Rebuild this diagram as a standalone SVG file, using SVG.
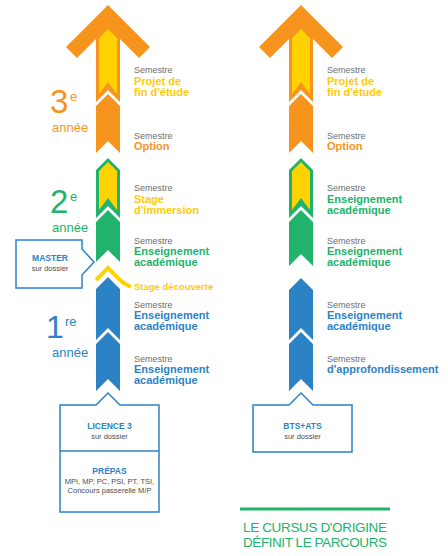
<svg xmlns="http://www.w3.org/2000/svg" width="448" height="556" viewBox="0 0 448 556">
<style>
.or{fill:#F7941E}.ye{fill:#FFD200}.gr{fill:#21B36B}.bl{fill:#2B83C6}
.t{font-family:"Liberation Sans",Arial,sans-serif}
.sem{font-size:9px;fill:#6D6E71}
.lab{font-size:11px;font-weight:bold}
.tor{fill:#F7941E}.tye{fill:#FFCB05}.tgr{fill:#21B36B}.tbl{fill:#2B83C6}
.big{font-size:33px}.sup{font-size:13px}.an{font-size:13px}
.box{fill:#fff;stroke:#2B83C6;stroke-width:1.5}
.bh{font-size:8.5px;font-weight:bold;fill:#2B83C6}
.bt{font-size:7.5px;fill:#4D4D4F}
</style>
<rect width="448" height="556" fill="#fff"/>

<g id="connectors">
  <path d="M96,280 L108,268 L120,280 Q124,284 131,287" fill="none" stroke="#FFD200" stroke-width="4"/>
</g>

<!-- LEFT COLUMN -->
<g id="L-projet">
  <polygon class="or" points="108,5 150,47 139,58 120,39 120,102 108,90 96,102 96,39 77,58 66,47"/>
  <polygon class="ye" points="108,29 117,38 117,94 108,82 99,94 99,38"/>
  <text class="t sem" x="134" y="73">Semestre</text>
  <text class="t lab tye" x="134" y="85">Projet de</text>
  <text class="t lab tye" x="134" y="96">fin d'étude</text>
</g>
<g id="L-option">
  <polygon class="or" points="108,94 120,106 120,153 108,141 96,153 96,106"/>
  <text class="t sem" x="134" y="139">Semestre</text>
  <text class="t lab tor" x="134" y="150">Option</text>
</g>
<g id="L-stage">
  <polygon class="gr" points="108,158 120,170 120,218 108,206 96,218 96,170"/>
  <polygon class="ye" points="108,162 117,171 117,210 108,198 99,210 99,171"/>
  <text class="t sem" x="134" y="191">Semestre</text>
  <text class="t lab tye" x="134" y="203">Stage</text>
  <text class="t lab tye" x="134" y="214">d'immersion</text>
</g>
<g id="L-ens2">
  <polygon class="gr" points="108,210 120,222 120,262 108,250 96,262 96,222"/>
  <text class="t sem" x="134" y="244">Semestre</text>
  <text class="t lab tgr" x="134" y="255">Enseignement</text>
  <text class="t lab tgr" x="134" y="266">académique</text>
</g>
<g id="L-decouverte">
  <text class="t tye" x="134" y="290" font-size="9.5" font-weight="bold">Stage découverte</text>
</g>
<g id="L-ens1a">
  <polygon class="bl" points="108,277 120,289 120,340 108,328 96,340 96,289"/>
  <text class="t sem" x="134" y="308">Semestre</text>
  <text class="t lab tbl" x="134" y="319">Enseignement</text>
  <text class="t lab tbl" x="134" y="330">académique</text>
</g>
<g id="L-ens1b">
  <polygon class="bl" points="108,332 120,344 120,391 108,379 96,391 96,344"/>
  <text class="t sem" x="134" y="362">Semestre</text>
  <text class="t lab tbl" x="134" y="373">Enseignement</text>
  <text class="t lab tbl" x="134" y="384">académique</text>
</g>

<g id="year3">
  <text class="t big tor" x="50" y="113">3</text>
  <text class="t sup tor" x="70" y="101">e</text>
  <text class="t an tor" x="52" y="132">année</text>
</g>
<g id="year2">
  <text class="t big tgr" x="50" y="213">2</text>
  <text class="t sup tgr" x="70" y="201">e</text>
  <text class="t an tgr" x="52" y="232">année</text>
</g>
<g id="year1">
  <text class="t tbl" x="46" y="338" font-size="32">1</text>
  <text class="t sup tbl" x="65" y="326">re</text>
  <text class="t an tbl" x="52" y="357">année</text>
</g>

<g id="master">
  <path class="box" d="M16,240 H82 V249 L94,262 L82,275 V288 H16 Z"/>
  <text class="t bh" x="50" y="261" text-anchor="middle">MASTER</text>
  <text class="t bt" x="50" y="271" text-anchor="middle">sur dossier</text>
</g>

<g id="licence">
  <path class="box" d="M60,405 H96 L108,393 L120,405 H159 V512 H60 Z"/>
  <line x1="60" y1="451" x2="159" y2="451" stroke="#2B83C6" stroke-width="1.5"/>
  <text class="t bh" x="109.5" y="429" text-anchor="middle">LICENCE 3</text>
  <text class="t bt" x="109.5" y="439" text-anchor="middle">sur dossier</text>
  <text class="t bh" x="109.5" y="474" text-anchor="middle">PRÉPAS</text>
  <text class="t bt" x="109.5" y="484" text-anchor="middle">MPI, MP, PC, PSI, PT, TSI,</text>
  <text class="t bt" x="109.5" y="493" text-anchor="middle">Concours passerelle M/P</text>
</g>

<!-- RIGHT COLUMN -->
<g id="R-projet">
  <polygon class="or" transform="translate(193,0)" points="108,5 150,47 139,58 120,39 120,102 108,90 96,102 96,39 77,58 66,47"/>
  <polygon class="ye" transform="translate(193,0)" points="108,29 117,38 117,94 108,82 99,94 99,38"/>
  <text class="t sem" x="327" y="73">Semestre</text>
  <text class="t lab tye" x="327" y="85">Projet de</text>
  <text class="t lab tye" x="327" y="96">fin d'étude</text>
</g>
<g id="R-option">
  <polygon class="or" transform="translate(193,0)" points="108,94 120,106 120,153 108,141 96,153 96,106"/>
  <text class="t sem" x="327" y="139">Semestre</text>
  <text class="t lab tor" x="327" y="150">Option</text>
</g>
<g id="R-ens2a">
  <polygon class="gr" transform="translate(193,0)" points="108,158 120,170 120,218 108,206 96,218 96,170"/>
  <polygon class="ye" transform="translate(193,0)" points="108,162 117,171 117,210 108,198 99,210 99,171"/>
  <text class="t sem" x="327" y="191">Semestre</text>
  <text class="t lab tgr" x="327" y="203">Enseignement</text>
  <text class="t lab tgr" x="327" y="214">académique</text>
</g>
<g id="R-ens2b">
  <polygon class="gr" transform="translate(193,0)" points="108,210 120,222 120,266 108,254 96,266 96,222"/>
  <text class="t sem" x="327" y="244">Semestre</text>
  <text class="t lab tgr" x="327" y="255">Enseignement</text>
  <text class="t lab tgr" x="327" y="266">académique</text>
</g>
<g id="R-ens1">
  <polygon class="bl" transform="translate(193,0)" points="108,278 120,290 120,340 108,328 96,340 96,290"/>
  <text class="t sem" x="327" y="308">Semestre</text>
  <text class="t lab tbl" x="327" y="319">Enseignement</text>
  <text class="t lab tbl" x="327" y="330">académique</text>
</g>
<g id="R-approf">
  <polygon class="bl" transform="translate(193,0)" points="108,332 120,344 120,391 108,379 96,391 96,344"/>
  <text class="t sem" x="327" y="362">Semestre</text>
  <text class="t lab tbl" x="327" y="373">d'approfondissement</text>
</g>

<g id="bts">
  <path class="box" d="M253,405 H289 L301,393 L313,405 H352 V452 H253 Z"/>
  <text class="t bh" x="302.5" y="429" text-anchor="middle">BTS+ATS</text>
  <text class="t bt" x="302.5" y="439" text-anchor="middle">sur dossier</text>
</g>

<g id="conclusion">
  <line x1="240" y1="509" x2="390" y2="509" stroke="#21B36B" stroke-width="3"/>
  <text class="t tgr" x="243" y="532" font-size="13.5" textLength="144">LE CURSUS D'ORIGINE</text>
  <text class="t tgr" x="243" y="547" font-size="13.5" textLength="144">DÉFINIT LE PARCOURS</text>
</g>
</svg>
